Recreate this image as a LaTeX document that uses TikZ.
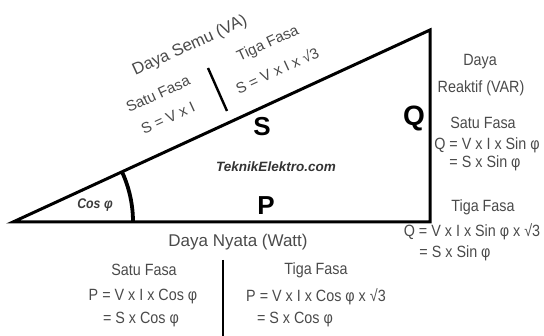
\documentclass[tikz,border=0pt]{standalone}
\usepackage{fontspec}
\setmainfont{Liberation Sans}
\newfontfamily\narrowfont{Liberation Sans}[FakeStretch=0.88]
\definecolor{txt}{HTML}{4A4A4A}
\begin{document}
\begin{tikzpicture}[x=1pt,y=-1pt,
  lbl/.style={text=txt,inner sep=0pt,font=\narrowfont\fontsize{16.3}{18}\selectfont},
  rlbl/.style={text=txt,inner sep=0pt,rotate=24.7,font=\fontsize{15}{17}\selectfont},
  big/.style={inner sep=0pt,font=\bfseries\fontsize{26}{28}\selectfont},
  tri/.style={line width=3pt,line join=miter},
  bar/.style={line width=2.4pt}]
\useasboundingbox (0,0) rectangle (544,336);
% triangle
\coordinate (A) at (13,222);
\coordinate (B) at (430,30);
\coordinate (C) at (430,222);
\draw[tri] (A) -- (B) -- (C) -- cycle;
\draw[line width=3.8pt] (A) ++(0:120pt) coordinate (arcS) arc[start angle=0,end angle=24.7,radius=120pt] coordinate (arcE);
% inner labels
\node[inner sep=0pt,text=txt!80!black,font=\bfseries\itshape\narrowfont\fontsize{14}{16}\selectfont] (cos) at (95,205) {Cos φ};
\node[big] (P) at (266,206) {P};
\node[big] (S) at (262,127) {S};
\node[big,font=\bfseries\fontsize{28}{30}\selectfont] (Q) at (414,118) {Q};
\node[inner sep=0pt,text=txt!70!black,font=\bfseries\itshape\fontsize{13.5}{15}\selectfont] (web) at (276,167) {TeknikElektro.com};
% hypotenuse labels
\node[rlbl,font=\fontsize{16.7}{18}\selectfont] (semu) at (190,46) {Daya Semu (VA)};
\node[rlbl] (s1h) at (158,94) {Satu Fasa};
\node[rlbl] (s1f) at (168,118) {S = V x I};
\node[rlbl] (s3h) at (268,44) {Tiga Fasa};
\node[rlbl] (s3f) at (277,70) {S = V x I x √3};
\coordinate (sb1) at (208,68);
\coordinate (sb2) at (227,111);
\draw[bar] (sb1) -- (sb2);
% right labels
\node[lbl] (q0) at (480,62) {Daya};
\node[lbl] (q1) at (481,88) {Reaktif (VAR)};
\node[lbl] (q2) at (483,123) {Satu Fasa};
\node[lbl] (q3) at (487,145) {Q = V x I x Sin φ};
\node[lbl] (q4) at (485,163) {= S x Sin φ};
\node[lbl] (q5) at (483,207) {Tiga Fasa};
\node[lbl] (q6) at (472,232) {Q = V x I x Sin φ x √3};
\node[lbl] (q7) at (455,253) {= S x Sin φ};
% bottom labels
\node[lbl,font=\fontsize{17}{19}\selectfont] (p0) at (238,242) {Daya Nyata (Watt)};
\node[lbl] (p1) at (144,270) {Satu Fasa};
\node[lbl] (p2) at (143,297) {P = V x I x Cos φ};
\node[lbl] (p3) at (141,320) {= S x Cos φ};
\node[lbl] (p4) at (316,270) {Tiga Fasa};
\node[lbl] (p5) at (316,297) {P = V x I x Cos φ x √3};
\node[lbl] (p6) at (295,320) {= S x Cos φ};
\coordinate (pb1) at (223,260);
\coordinate (pb2) at (223,336);
\draw[bar] (pb1) -- (pb2);
\end{tikzpicture}
\end{document}
